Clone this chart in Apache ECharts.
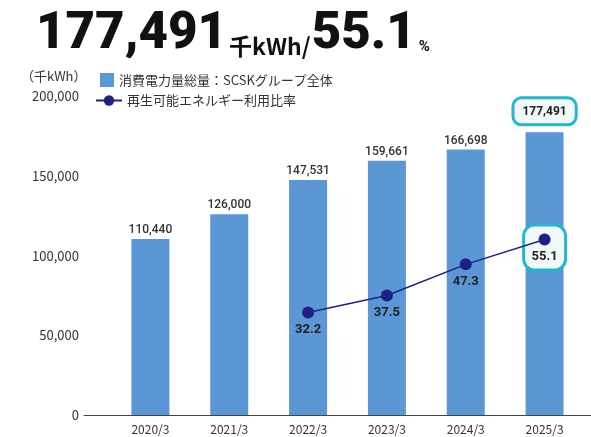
<!DOCTYPE html>
<html><head><meta charset="utf-8">
<script src="https://cdn.jsdelivr.net/npm/echarts@6/dist/echarts.min.js"></script>
<style>html,body{margin:0;padding:0;background:#fff}#c{width:591px;height:437px}</style>
</head><body><div id="c"></div>
<script>
const categories = ['2020/3','2021/3','2022/3','2023/3','2024/3','2025/3'];
const powerValues = [110440, 126000, 147531, 159661, 166698, 177491];
const renewableRatio = ['-', '-', 32.2, 37.5, 47.3, 55.1];
const highlightRatio = [null, null, null, null, null, 55.1];
const yTicks = [0, 50000, 100000, 150000, 200000];
const barName = '消費電力量総量：SCSKグループ全体';
const lineName = '再生可能エネルギー利用比率';
const headlineTotal = '177,491';
const headlineRatio = '55.1';

const jp = "'Noto Sans CJK JP','Noto Sans',sans-serif";
const num = "Roboto,'Noto Sans',sans-serif";
const fmt = v => v.toLocaleString('en-US');

const chart = echarts.init(document.getElementById('c'));
chart.setOption({
  animation: false,
  title: {
    left: 31, top: 5,
    text: '{a|' + headlineTotal + '}{b|千kWh/}{a|' + headlineRatio + '}{c|%}',
    textStyle: {
      rich: {
        a: {fontFamily: num, fontWeight: 900, fontSize: 51, color: '#111', verticalAlign: 'bottom'},
        b: {fontFamily: jp, fontSize: 23, color: '#111', verticalAlign: 'bottom', padding: [0,1,3,2]},
        c: {fontFamily: num, fontSize: 15, color: '#111', verticalAlign: 'bottom', padding: [0,0,6,3]}
      }
    }
  },
  graphic: [{
    type: 'text', left: 21, top: 70,
    style: {text: '（千kWh）', font: '13px ' + jp, fill: '#333'}
  }],
  legend: [{
    data: [barName], left: 95, top: 68, itemWidth: 14, itemHeight: 14,
    icon: 'rect', itemGap: 8,
    textStyle: {fontFamily: jp, fontSize: 13, color: '#333'}
  }, {
    data: [lineName], left: 90, top: 89, itemWidth: 26, itemHeight: 13,
    textStyle: {fontFamily: jp, fontSize: 13, color: '#333'}
  }],
  grid: [
    {left: 111, right: 7, top: 96.5, bottom: 22},
    {left: 84, right: 0, top: 96.5, bottom: 22}
  ],
  xAxis: [{
    type: 'category', data: categories, gridIndex: 0,
    axisLine: {show: false}, axisTick: {show: false},
    axisLabel: {color: '#333', fontFamily: jp, fontSize: 12, margin: 8}
  }, {
    type: 'value', gridIndex: 1, min: 0, max: 1,
    axisLine: {show: true, lineStyle: {color: '#444', width: 1}},
    axisTick: {show: false}, axisLabel: {show: false}, splitLine: {show: false}
  }],
  yAxis: [{
    type: 'value', gridIndex: 0, min: yTicks[0], max: yTicks[yTicks.length-1], interval: yTicks[1]-yTicks[0],
    axisLine: {show: false}, axisTick: {show: false}, splitLine: {show: false},
    axisLabel: {color: '#333', fontFamily: jp, fontSize: 13, margin: 32, formatter: v => fmt(v)}
  }, {
    type: 'value', gridIndex: 0, min: 0, max: 100, show: false
  }, {
    type: 'value', gridIndex: 1, show: false
  }],
  series: [{
    name: barName, type: 'bar', xAxisIndex: 0, yAxisIndex: 0,
    data: powerValues.map((v, i) => i === powerValues.length - 1 ? {
      value: v,
      label: {
        distance: 9,
        formatter: p => '{box|' + fmt(p.value) + '}',
        rich: {box: {fontFamily: num, fontWeight: 'bold', fontSize: 12, color: '#222',
          backgroundColor: '#f3f8fa', borderColor: '#24b6cc', borderWidth: 3, borderRadius: 7,
          padding: [7, 8, 5, 8]}}
      }
    } : v),
    barWidth: 38,
    itemStyle: {color: '#5b97d4'},
    label: {show: true, position: 'top', distance: 3, color: '#333', fontFamily: num, fontWeight: 500, fontSize: 12,
      formatter: p => fmt(p.value)}
  }, {
    name: 'highlight', type: 'scatter', xAxisIndex: 0, yAxisIndex: 1,
    data: highlightRatio, symbol: 'roundRect', symbolSize: [42, 45], symbolOffset: [0, 8],
    itemStyle: {color: '#f3f8fa', borderColor: '#24b6cc', borderWidth: 3, opacity: 1},
    silent: true, z: 3
  }, {
    name: lineName, type: 'line', xAxisIndex: 0, yAxisIndex: 1,
    data: renewableRatio, symbol: 'circle', symbolSize: 12, z: 4,
    itemStyle: {color: '#1d2088'}, lineStyle: {color: '#1d2088', width: 1.5},
    label: {show: true, position: 'bottom', distance: 5, color: '#222', fontFamily: num, fontWeight: 'bold', fontSize: 13}
  }]
});
</script></body></html>
